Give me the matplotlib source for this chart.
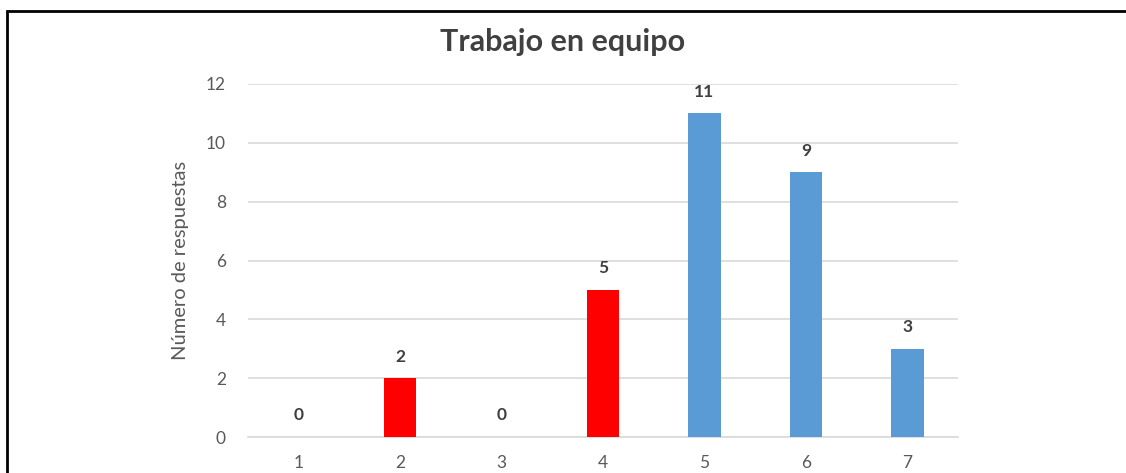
import matplotlib.pyplot as plt
from matplotlib.patches import Rectangle

plt.rcParams["font.family"] = ["Lato", "DejaVu Sans"]

categorias = ["1", "2", "3", "4", "5", "6", "7"]
respuestas = [0, 2, 0, 5, 11, 9, 3]
colores = ["#FF0000"] * 4 + ["#5B9BD5"] * 3
yticks = [0, 2, 4, 6, 8, 10, 12]

W, H = 1126, 473
fig = plt.figure(figsize=(W / 100, H / 100), dpi=100)
ax = fig.add_axes([248 / W, 36 / H, 710 / W, 353 / H])

x = range(len(categorias))
ax.bar(x, respuestas, width=0.32, color=colores, zorder=3)
for xi, v in zip(x, respuestas):
    ax.annotate(str(v), (xi, v), xytext=(0, 15.5), textcoords="offset points",
                ha="center", va="center", fontsize=12.5, fontweight="bold",
                color="#404040")

ax.set_xlim(-0.5, len(categorias) - 0.5)
ax.set_ylim(0, 12)
ax.set_yticks(yticks)
ax.set_xticks(list(x))
ax.set_xticklabels(categorias)
ax.grid(axis="y", color="#d9d9d9", linewidth=1.2, zorder=0)
for s in ["top", "right", "left"]:
    ax.spines[s].set_visible(False)
ax.spines["bottom"].set_color("#d9d9d9")
ax.spines["bottom"].set_linewidth(1.2)
ax.tick_params(axis="both", length=0, labelsize=12.5, labelcolor="#595959")
ax.tick_params(axis="y", pad=16)
ax.tick_params(axis="x", pad=13)
ax.set_ylabel("Número de respuestas", fontsize=14.5, color="#595959", labelpad=12)

fig.text(563 / W, 1 - 42 / H, "Trabajo en equipo", ha="center", va="center",
         fontsize=22, fontweight="bold", color="#404040")

# marco exterior (se corta por la derecha y por abajo)
fig.patches.append(Rectangle((7 / W, -0.1), 1.2, 1.1 - 11 / H, transform=fig.transFigure,
                             fill=False, edgecolor="black", linewidth=2))

fig.savefig("out.png", dpi=100)
